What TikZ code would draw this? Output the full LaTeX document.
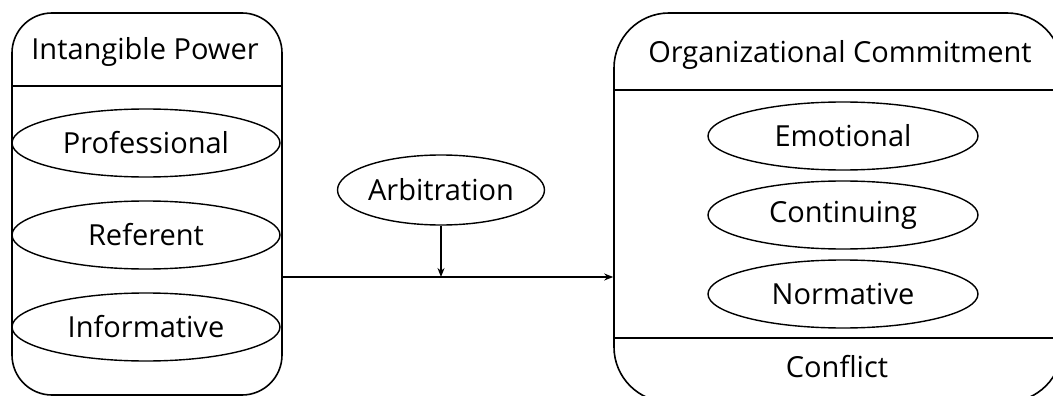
\documentclass[tikz,border=0pt]{standalone}
\usepackage{fontspec}
\setmainfont{Open Sans}
\usetikzlibrary{shapes.geometric,arrows.meta}
\tikzset{
  bigbox/.style={draw,line width=1.6pt,rectangle,inner sep=0pt},
  oval/.style={draw,line width=1.4pt,ellipse,inner sep=0pt,font=\fontsize{29}{34}\selectfont},
  lbl/.style={inner sep=0pt,font=\fontsize{29}{34}\selectfont},
  sep/.style={line width=1.4pt},
  conn/.style={line width=2pt,-{Stealth[length=9pt,width=7pt]}}
}
\begin{document}
\begin{tikzpicture}[x=1pt,y=-1pt]
\useasboundingbox (0,0) rectangle (1053,396);
% left box
\node[bigbox,rounded corners=40pt,minimum width=270pt,minimum height=382pt] (lbox) at (147,204) {};
\node[lbl] (ltitle) at (145,52) {Intangible Power};
\draw[sep] (12,86) -- (282,86);
\node[oval,minimum width=268pt,minimum height=68pt] (prof) at (146,143) {Professional};
\node[oval,minimum width=268pt,minimum height=68pt] (ref) at (146,235) {Referent};
\node[oval,minimum width=268pt,minimum height=68pt] (info) at (146,327) {Informative};
% right box
\node[bigbox,rounded corners=55pt,minimum width=448pt,minimum height=389pt] (rbox) at (838,207.5) {};
\node[lbl] (rtitle) at (840,55) {Organizational Commitment};
\draw[sep] (614,90) -- (1062,90);
\draw[sep] (614,338) -- (1062,338);
\node[oval,minimum width=270pt,minimum height=68pt] (emo) at (843,136) {Emotional};
\node[oval,minimum width=270pt,minimum height=68pt] (cont) at (843,215) {Continuing};
\node[oval,minimum width=270pt,minimum height=68pt] (norm) at (843,294) {Normative};
\node[lbl] (confl) at (837,367) {Conflict};
% moderator
\node[oval,minimum width=207pt,minimum height=70pt] (arb) at (441,190) {Arbitration};
\coordinate (j) at (441,277);
\draw[conn] (lbox.east |- j) -- (rbox.west |- j);
\draw[conn] (arb.south) -- (j);
\end{tikzpicture}
\end{document}
